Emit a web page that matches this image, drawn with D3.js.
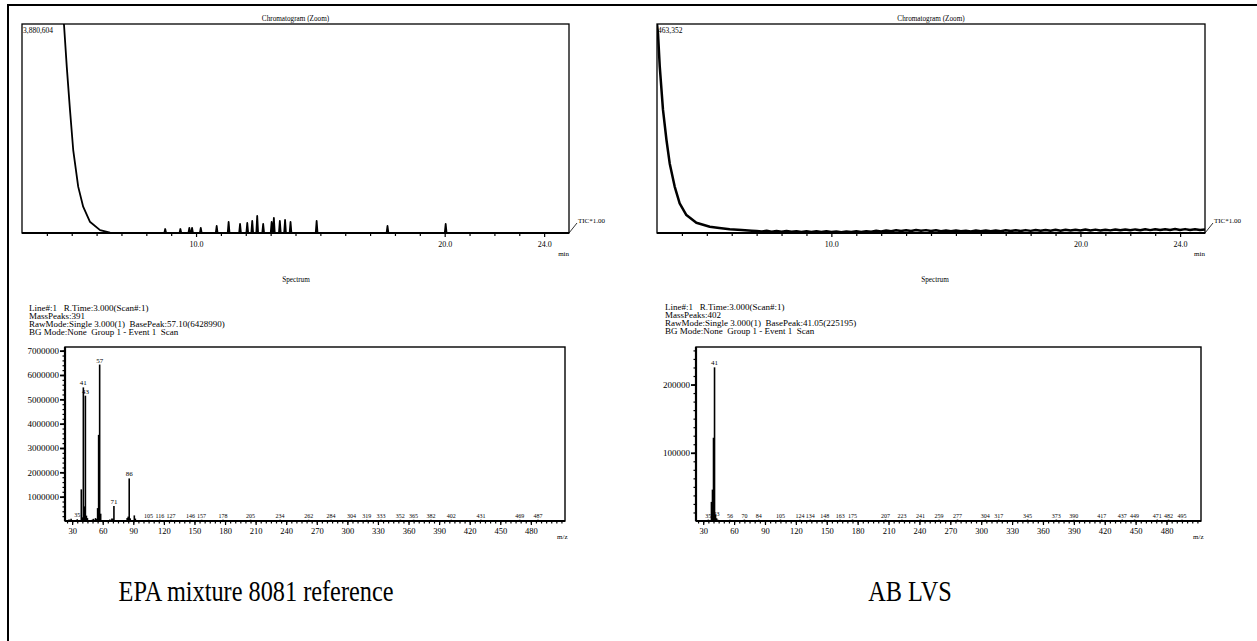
<!DOCTYPE html>
<html><head><meta charset="utf-8">
<script src="https://cdn.jsdelivr.net/npm/d3@7"></script>
<style>
body{margin:0;background:#fff}
svg{display:block}
text{font-family:"Liberation Serif","Times New Roman",serif;fill:#000}
</style>
</head><body>
<svg id="c" width="1257" height="641"></svg>
<script>
// ---------------- DATA ----------------
const chromTimeDomain = [3, 25];
const chromTickLabels = [10, 20, 24];
const chromMinorTicks = [4,5,6,7,8,9,10,11,12,13,14,15,16,17,18,19,20,21,22,23,24];

// Left chromatogram (EPA mixture 8081 reference)
const leftChromMax = 3880604;
const leftDecayT = [4.55, 4.69, 4.80, 4.93, 5.06, 5.26, 5.46, 5.73, 6.14, 6.54, 7.00];
const leftDecayI = [4300000, 3861000, 3089000, 2286000, 1541000, 861000, 489000, 210000, 54000, 6000, 1500];
const leftPeakT = [8.76, 9.37, 9.73, 9.84, 10.19, 10.83, 11.31, 11.77, 12.06, 12.26, 12.46, 12.70, 13.04, 13.13, 13.37, 13.58, 13.80, 14.85, 17.70, 20.04];
const leftPeakI = [74000, 74000, 93000, 93000, 93000, 130000, 204000, 167000, 186000, 223000, 316000, 167000, 204000, 279000, 223000, 241000, 204000, 223000, 130000, 167000];

// Right chromatogram (AB LVS)
const rightChromMax = 463352;
const rightDecayT = [3.00, 3.04, 3.11, 3.24, 3.38, 3.51, 3.71, 3.91, 4.18, 4.58, 5.12, 5.50, 5.92, 6.40, 6.80];
const rightDecayI = [463352, 442500, 369300, 273400, 206200, 154300, 102900, 65800, 39800, 22700, 13900, 11100, 8300, 6500, 5100];
const rightNoiseT0 = 7.0;
const rightNoiseStep = 0.2;
const rightNoiseI = [4600,3200,5100,2900,4400,2800,4600,2700,4100,2400,
  4000,2200,3800,2100,3700,2000,3500,1900,3400,2100,
  3800,2300,4100,2800,4800,3600,5600,4000,6000,4300,
  6200,4500,6600,4800,6400,4400,6100,4100,5700,3800,
  5400,3700,5200,3600,5300,3700,5500,3800,5700,4100,
  5900,4200,6100,4400,6400,4700,6600,4900,6700,5100,
  7000,5200,7200,5400,7400,5600,7600,5700,7500,5600,
  7400,5800,7700,5900,7800,6100,8000,6200,8200,6400,
  8300,6500,8500,6700,8700,6800,8600,6600,8400,6500,7600];

// Spectra
const mzDomain = [23, 513.5];
const mzTickLabels = [30,60,90,120,150,180,210,240,270,300,330,360,390,420,450,480];

const leftSpecMz = [27,29,35,39,40,41,42,43,44,45,50,51,53,54,55,56,57,58,67,69,70,71,84,85,86,87,91,92,105,116,127,146,157,178,205,234,262,284,304,319,333,352,365,382,402,431,469,487];
const leftSpecI  = [60000,90000,70000,1300000,150000,5490000,600000,5150000,220000,120000,60000,90000,120000,80000,530000,3540000,6428990,300000,60000,100000,90000,620000,120000,180000,1750000,110000,230000,100000,50000,50000,50000,50000,50000,50000,50000,50000,50000,50000,50000,50000,50000,50000,50000,50000,50000,50000,50000,50000];
const leftSpecLabels = [35,41,43,57,71,86,105,116,127,146,157,178,205,234,262,284,304,319,333,352,365,382,402,431,469,487];
const leftBigLabels = [41,43,57,71,86];
const leftSpecYMax = 7150000;
const leftSpecYTicks = [1000000,2000000,3000000,4000000,5000000,6000000,7000000];

const rightSpecMz = [35,38,39,40,41,42,43,44,56,70,84,105,124,134,148,163,175,207,223,241,259,277,304,317,345,373,390,417,437,449,471,482,495];
const rightSpecI  = [2000,28000,46000,122000,225195,9000,4000,2000,2000,2000,2000,2000,2000,2000,2000,2000,2000,2000,2000,2000,2000,2000,2000,2000,2000,2000,2000,2000,2000,2000,2000,2000,2000];
const rightSpecLabels = [35,41,43,56,70,84,105,124,134,148,163,175,207,223,241,259,277,304,317,345,373,390,417,437,449,471,482,495];
const rightBigLabels = [41];
const rightSpecYMax = 255000;
const rightSpecYTicks = [100000,200000];

const leftHeader = ["Line#:1   R.Time:3.000(Scan#:1)", "MassPeaks:391", "RawMode:Single 3.000(1)  BasePeak:57.10(6428990)", "BG Mode:None  Group 1 - Event 1  Scan"];
const rightHeader = ["Line#:1   R.Time:3.000(Scan#:1)", "MassPeaks:402", "RawMode:Single 3.000(1)  BasePeak:41.05(225195)", "BG Mode:None  Group 1 - Event 1  Scan"];
const captions = ["EPA mixture 8081 reference", "AB LVS"];

// ---------------- DRAW ----------------
const svg = d3.select("#c");
svg.append("rect").attr("width",1257).attr("height",641).attr("fill","#fff");
svg.append("path").attr("d","M8,641V5H1257").attr("fill","none").attr("stroke","#000").attr("stroke-width",2);

function styleAxis(g, fs){
  g.selectAll("path.domain").remove();
  g.selectAll("line").attr("stroke","#000").attr("stroke-width",1.2);
  g.selectAll("text").attr("font-size",fs).attr("fill","#000")
   .attr("font-family","Liberation Serif, Times New Roman, serif");
}

let clipId = 0;
function chrom(box, pts, maxVal, maxLabel){
  const x = d3.scaleLinear().domain(chromTimeDomain).range([box.x0, box.x1]);
  const y = d3.scaleLinear().domain([0, maxVal]).range([box.y1, box.y0]);
  const cid = "clip"+(clipId++);
  svg.append("clipPath").attr("id",cid).append("rect")
    .attr("x",box.x0).attr("y",box.y0).attr("width",box.x1-box.x0).attr("height",box.y1-box.y0);
  svg.append("path").datum(pts).attr("clip-path","url(#"+cid+")")
    .attr("fill","none").attr("stroke","#000").attr("stroke-width",box.sw).attr("stroke-linejoin","round")
    .attr("d", d3.line().x(d=>x(d[0])).y(d=>y(d[1])));
  svg.append("rect").attr("x",box.x0).attr("y",box.y0).attr("width",box.x1-box.x0).attr("height",box.y1-box.y0)
    .attr("fill","none").attr("stroke","#000").attr("stroke-width",1.3);
  svg.append("line").attr("x1",box.x0).attr("x2",box.x1).attr("y1",box.y1).attr("y2",box.y1)
    .attr("stroke","#000").attr("stroke-width",2);
  const ax = svg.append("g").attr("transform","translate(0,"+box.y1+")")
    .call(d3.axisBottom(x).tickValues(chromMinorTicks).tickSize(3).tickPadding(5)
      .tickFormat(d => chromTickLabels.includes(d) ? d.toFixed(1) : ""));
  styleAxis(ax, 8);
  ax.selectAll(".tick").filter(d=>chromTickLabels.includes(d)).select("line").attr("y2",4);
  svg.append("text").attr("x",x(24)+14).attr("y",box.y1+23).attr("font-size",7).text("min");
  svg.append("text").attr("x",(box.x0+box.x1)/2).attr("y",box.y0-3).attr("text-anchor","middle")
    .attr("font-size",7.2).text("Chromatogram (Zoom)");
  svg.append("text").attr("x",box.x0+1).attr("y",box.y0+9).attr("font-size",7.5).text(maxLabel);
  svg.append("line").attr("x1",box.x1).attr("y1",box.y1).attr("x2",box.x1+8).attr("y2",box.y1-10)
    .attr("stroke","#000").attr("stroke-width",0.8);
  svg.append("text").attr("x",box.x1+9).attr("y",box.y1-10).attr("font-size",7).text("TIC*1.00");
}

const lpts = leftDecayT.map((t,i)=>[t,leftDecayI[i]]);
leftPeakT.forEach((t,i)=>{ lpts.push([t-0.035,1500],[t,leftPeakI[i]],[t+0.035,1500]); });
lpts.push([25,1500]);
lpts.sort((a,b)=>a[0]-b[0]);
chrom({x0:22,x1:569,y0:24,y1:233,sw:1.8}, lpts, leftChromMax, "3,880,604");

const rpts = rightDecayT.map((t,i)=>[t,rightDecayI[i]]);
rightNoiseI.forEach((v,i)=>rpts.push([rightNoiseT0 + i*rightNoiseStep, v]));
chrom({x0:657,x1:1205,y0:24,y1:233,sw:2.5}, rpts, rightChromMax, "463,352");

function spectrum(box, mz, inten, labels, bigLabels, yMax, yTicks, yMinor, header, hx){
  const x = d3.scaleLinear().domain(mzDomain).range([box.x0, box.x1]);
  const y = d3.scaleLinear().domain([0, yMax]).range([box.y1, box.y0]);
  svg.append("text").attr("x",box.tx).attr("y",282).attr("text-anchor","middle")
    .attr("font-size",7.2).text("Spectrum");
  header.forEach((h,i)=>{
    svg.append("text").attr("x",hx).attr("y",box.hy+i*8.1).attr("font-size",9)
      .style("white-space","pre").text(h);
  });
  svg.append("g").selectAll("line").data(mz).join("line")
    .attr("x1",d=>x(d)).attr("x2",d=>x(d)).attr("y1",y(0))
    .attr("y2",(d,i)=>y(inten[i])).attr("stroke","#000").attr("stroke-width",1.6);
  svg.append("g").selectAll("text").data(labels).join("text")
    .attr("x",d=>x(d)).attr("y",d=>y(inten[mz.indexOf(d)])-2)
    .attr("text-anchor","middle")
    .attr("font-size",d=>bigLabels.includes(d)?7:6)
    .text(d=>d);
  svg.append("rect").attr("x",box.x0).attr("y",box.y0).attr("width",box.x1-box.x0).attr("height",box.y1-box.y0)
    .attr("fill","none").attr("stroke","#000").attr("stroke-width",1.4);
  svg.append("line").attr("x1",box.x0).attr("x2",box.x1).attr("y1",box.y1).attr("y2",box.y1)
    .attr("stroke","#000").attr("stroke-width",2.2);
  svg.append("line").attr("x1",box.x0).attr("x2",box.x0).attr("y1",box.y0).attr("y2",box.y1)
    .attr("stroke","#000").attr("stroke-width",2.2);
  const minorX = d3.range(25, 511, 5);
  const axm = svg.append("g").attr("transform","translate(0,"+box.y1+")")
    .call(d3.axisBottom(x).tickValues(minorX).tickSize(2.5).tickFormat(""));
  styleAxis(axm, 8);
  const axM = svg.append("g").attr("transform","translate(0,"+box.y1+")")
    .call(d3.axisBottom(x).tickValues(mzTickLabels).tickSize(4).tickPadding(3).tickFormat(d=>d));
  styleAxis(axM, 8.5);
  svg.append("text").attr("x",box.x1-8).attr("y",box.y1+18).attr("font-size",7).text("m/z");
  const ym = svg.append("g").attr("transform","translate("+box.x0+",0)")
    .call(d3.axisLeft(y).tickValues(d3.range(yMinor, yMax, yMinor)).tickSize(2.5).tickFormat(""));
  styleAxis(ym, 8);
  const yM = svg.append("g").attr("transform","translate("+box.x0+",0)")
    .call(d3.axisLeft(y).tickValues(yTicks).tickSize(5).tickPadding(1).tickFormat(d=>d));
  styleAxis(yM, 9);
  yM.selectAll("line").attr("stroke-width",1.8);
}

spectrum({x0:65,x1:565,y0:347,y1:521,hy:311,tx:296}, leftSpecMz, leftSpecI, leftSpecLabels, leftBigLabels,
  leftSpecYMax, leftSpecYTicks, 200000, leftHeader, 29);
spectrum({x0:696,x1:1201,y0:347,y1:521,hy:310,tx:935}, rightSpecMz, rightSpecI, rightSpecLabels, rightBigLabels,
  rightSpecYMax, rightSpecYTicks, 12500, rightHeader, 665);

svg.append("text").attr("transform","translate(256,601) scale(0.81,1)").attr("text-anchor","middle").attr("font-size",30).text(captions[0]);
svg.append("text").attr("transform","translate(910,601) scale(0.81,1)").attr("text-anchor","middle").attr("font-size",30).text(captions[1]);
</script>
</body></html>
